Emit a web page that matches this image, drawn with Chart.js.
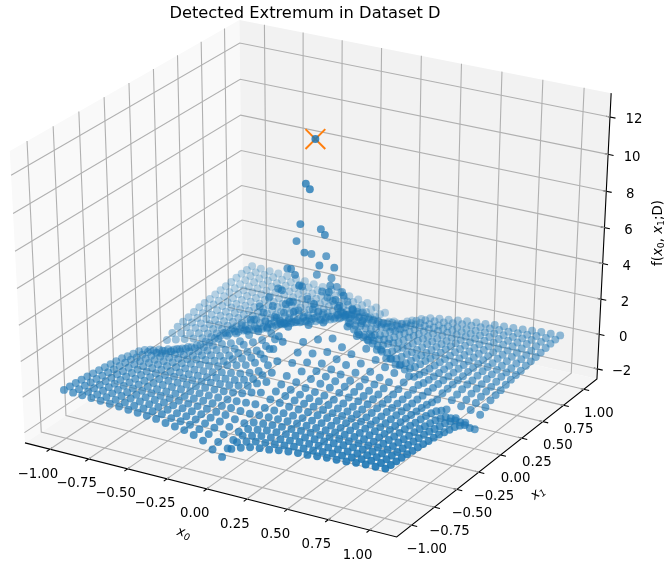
<!DOCTYPE html>
<html>
<head>
<meta charset="utf-8">
<title>Detected Extremum in Dataset D</title>
<script src="https://cdn.jsdelivr.net/npm/chart.js@4/dist/chart.umd.min.js"></script>
<style>
    html, body { margin: 0; padding: 0; background: #fff; }
    canvas { display: block; }
</style>
</head>
<body>
<canvas id="grafico" width="664" height="567"></canvas>
<script>
// Grid positions
const x0Values = [-1,-0.941,-0.882,-0.824,-0.765,-0.706,-0.647,-0.588,-0.529,-0.471,-0.412,-0.353,-0.294,-0.235,-0.176,-0.118,-0.059,0,0.059,0.118,0.176,0.235,0.294,0.353,0.412,0.471,0.529,0.588,0.647,0.706,0.765,0.824,0.882,0.941,1];
const x1Values = [-1,-0.941,-0.882,-0.824,-0.765,-0.706,-0.647,-0.588,-0.529,-0.471,-0.412,-0.353,-0.294,-0.235,-0.176,-0.118,-0.059,0,0.059,0.118,0.176,0.235,0.294,0.353,0.412,0.471,0.529,0.588,0.647,0.706,0.765,0.824,0.882,0.941,1];

// f(x0, x1; D), one row per x1 value
const fValues = [
[.16,.13,.11,.08,.05,.01,-.02,-.07,-.11,-.15,-.2,-.3,-.37,-.44,-.58,-.77,-1.14,-1.42,-.84,-.65,-.49,-.41,-.36,-.27,-.2,-.16,-.13,-.07,-.03,0,.04,.09,.13,.14,.17],
[.13,.11,.09,.06,.04,.01,-.02,-.06,-.09,-.12,-.16,-.25,-.3,-.36,-.48,-.63,-.94,-1.17,-.7,-.54,-.4,-.34,-.29,-.22,-.16,-.13,-.11,-.06,-.02,0,.03,.07,.11,.12,.14],
[.11,.09,.07,.05,.03,.01,-.01,-.05,-.07,-.1,-.13,-.2,-.24,-.29,-.38,-.5,-.74,-.93,-.55,-.43,-.32,-.27,-.23,-.18,-.13,-.1,-.08,-.05,-.02,0,.02,.06,.08,.09,.11],
[.08,.06,.05,.04,.02,.01,-.01,-.03,-.05,-.07,-.1,-.14,-.18,-.21,-.28,-.37,-.54,-.68,-.4,-.31,-.23,-.2,-.17,-.13,-.1,-.07,-.06,-.03,-.01,0,.02,.04,.06,.07,.08],
[.05,.04,.03,.02,.02,0,-.01,-.02,-.03,-.05,-.06,-.09,-.11,-.13,-.18,-.23,-.34,-.43,-.26,-.2,-.15,-.12,-.11,-.08,-.06,-.05,-.04,-.02,-.01,0,.01,.03,.04,.04,.05],
[.01,.01,.01,.01,0,0,0,-.01,-.01,-.01,-.02,-.03,-.03,-.04,-.05,-.06,-.1,-.12,-.07,-.06,-.04,-.03,-.03,-.02,-.02,-.01,-.01,-.01,0,0,0,.01,.01,.01,.01],
[-.02,-.02,-.01,-.01,-.01,0,0,.01,.02,.02,.03,.04,.05,.06,.08,.1,.15,.19,.11,.09,.07,.06,.05,.04,.03,.02,.02,.01,0,0,0,-.01,-.02,-.02,-.02],
[-.07,-.06,-.05,-.03,-.02,-.01,.01,.03,.05,.07,.09,.13,.16,.19,.25,.33,.5,.62,.37,.29,.21,.18,.16,.12,.09,.07,.06,.03,.01,0,-.02,-.04,-.06,-.06,-.07],
[-.11,-.09,-.07,-.05,-.03,-.01,.01,.05,.08,.1,.14,.21,.26,.31,.41,.53,.79,.99,.59,.46,.34,.29,.25,.19,.14,.11,.09,.05,.02,0,-.02,-.06,-.09,-.1,-.12],
[-.15,-.12,-.1,-.07,-.05,-.01,.02,.07,.1,.14,.18,.27,.34,.4,.53,.7,1.04,1.3,.77,.6,.45,.38,.33,.25,.18,.14,.12,.07,.03,0,-.03,-.08,-.12,-.13,-.16],
[-.2,-.16,-.13,-.1,-.06,-.02,.03,.09,.14,.18,.24,.36,.45,.54,.71,.93,1.38,1.73,1.03,.8,.6,.5,.43,.33,.24,.19,.16,.09,.03,0,-.04,-.1,-.16,-.17,-.21],
[-.3,-.25,-.19,-.14,-.09,-.03,.04,.13,.21,.27,.36,.54,.67,.8,1.06,1.4,2.07,2.59,1.54,1.19,.89,.75,.65,.49,.36,.28,.23,.13,.05,0,-.06,-.16,-.23,-.26,-.31],
[-.37,-.3,-.24,-.18,-.11,-.03,.05,.16,.26,.34,.45,.67,.83,1.0,1.32,1.73,2.57,3.21,1.91,1.48,1.11,.93,.8,.61,.45,.35,.29,.16,.06,0,-.08,-.19,-.29,-.32,-.39],
[-.44,-.36,-.29,-.21,-.13,-.04,.06,.19,.31,.4,.54,.8,1.0,1.19,1.57,2.07,3.06,3.83,2.28,1.76,1.32,1.11,.96,.73,.54,.42,.34,.19,.08,0,-.1,-.23,-.34,-.38,-.46],
[-.58,-.48,-.38,-.28,-.18,-.05,.08,.25,.4,.53,.71,1.06,1.32,1.57,2.07,2.73,4.05,5.06,3.01,2.33,1.75,1.47,1.27,.96,.71,.56,.46,.25,.1,0,-.13,-.3,-.46,-.51,-.61],
[-.77,-.63,-.5,-.37,-.23,-.07,.1,.33,.53,.7,.93,1.4,1.73,2.07,2.73,3.6,5.34,6.67,3.97,3.07,2.3,1.93,1.67,1.27,.93,.73,.6,.33,.13,0,-.17,-.4,-.6,-.67,-.8],
[-1.14,-.94,-.74,-.54,-.35,-.1,.15,.49,.79,1.04,1.38,2.07,2.57,3.06,4.05,5.34,7.9,9.88,5.88,4.54,3.41,2.87,2.47,1.88,1.38,1.09,.89,.49,.2,0,-.25,-.59,-.89,-.99,-1.19],
[-1.42,-1.17,-.93,-.68,-.43,-.12,.19,.62,.99,1.3,1.73,2.59,3.21,3.83,5.06,6.67,9.88,12.35,7.35,5.68,4.26,3.58,3.09,2.35,1.73,1.36,1.11,.62,.25,0,-.31,-.74,-1.11,-1.24,-1.48],
[-.85,-.7,-.55,-.4,-.26,-.07,.11,.37,.59,.77,1.03,1.54,1.91,2.28,3.01,3.97,5.88,7.35,4.37,3.38,2.54,2.13,1.84,1.4,1.03,.81,.66,.37,.15,0,-.18,-.44,-.66,-.74,-.88],
[-.65,-.54,-.43,-.31,-.2,-.06,.09,.28,.45,.6,.8,1.19,1.48,1.76,2.33,3.07,4.54,5.68,3.38,2.61,1.96,1.65,1.42,1.08,.8,.62,.51,.28,.11,0,-.14,-.34,-.51,-.57,-.68],
[-.49,-.4,-.32,-.23,-.15,-.04,.06,.21,.34,.45,.6,.89,1.11,1.32,1.75,2.3,3.41,4.26,2.53,1.96,1.47,1.24,1.07,.81,.6,.47,.38,.21,.09,0,-.11,-.26,-.38,-.43,-.51],
[-.41,-.34,-.27,-.2,-.13,-.04,.05,.18,.29,.38,.5,.75,.93,1.11,1.47,1.93,2.86,3.58,2.13,1.65,1.24,1.04,.9,.68,.5,.39,.32,.18,.07,0,-.09,-.21,-.32,-.36,-.43],
[-.36,-.29,-.23,-.17,-.11,-.03,.05,.15,.25,.32,.43,.65,.8,.96,1.27,1.67,2.47,3.09,1.84,1.42,1.07,.9,.77,.59,.43,.34,.28,.15,.06,0,-.08,-.19,-.28,-.31,-.37],
[-.27,-.22,-.18,-.13,-.08,-.02,.04,.12,.19,.25,.33,.49,.61,.73,.96,1.27,1.88,2.35,1.4,1.08,.81,.68,.59,.45,.33,.26,.21,.12,.05,0,-.06,-.14,-.21,-.24,-.28],
[-.2,-.16,-.13,-.1,-.06,-.02,.03,.09,.14,.18,.24,.36,.45,.54,.71,.93,1.38,1.73,1.03,.8,.6,.5,.43,.33,.24,.19,.16,.09,.03,0,-.04,-.1,-.16,-.17,-.21],
[-.16,-.13,-.1,-.07,-.05,-.01,.02,.07,.11,.14,.19,.29,.35,.42,.56,.73,1.09,1.36,.81,.63,.47,.39,.34,.26,.19,.15,.12,.07,.03,0,-.03,-.08,-.12,-.14,-.16],
[-.13,-.11,-.08,-.06,-.04,-.01,.02,.06,.09,.12,.16,.23,.29,.34,.46,.6,.89,1.11,.66,.51,.38,.32,.28,.21,.16,.12,.1,.06,.02,0,-.03,-.07,-.1,-.11,-.13],
[-.07,-.06,-.05,-.03,-.02,-.01,.01,.03,.05,.07,.09,.13,.16,.19,.25,.33,.5,.62,.37,.29,.21,.18,.16,.12,.09,.07,.06,.03,.01,0,-.02,-.04,-.06,-.06,-.07],
[-.03,-.02,-.02,-.01,-.01,0,0,.01,.02,.03,.04,.05,.07,.08,.1,.14,.2,.25,.15,.12,.09,.07,.06,.05,.04,.03,.02,.01,0,0,-.01,-.02,-.02,-.03,-.03],
[0,0,0,0,0,0,0,0,0,0,0,0,0,0,0,0,0,0,0,0,0,0,0,0,0,0,0,0,0,0,0,0,0,0,0],
[.04,.03,.02,.02,.01,0,0,-.02,-.02,-.03,-.04,-.07,-.08,-.1,-.13,-.17,-.25,-.31,-.18,-.14,-.11,-.09,-.08,-.06,-.04,-.03,-.03,-.02,-.01,0,.01,.02,.03,.03,.04],
[.09,.07,.06,.04,.03,.01,-.01,-.04,-.06,-.08,-.1,-.16,-.19,-.23,-.3,-.4,-.59,-.74,-.44,-.34,-.26,-.21,-.19,-.14,-.1,-.08,-.07,-.04,-.01,0,.02,.04,.07,.07,.09],
[.13,.11,.08,.06,.04,.01,-.02,-.06,-.09,-.12,-.16,-.23,-.29,-.34,-.46,-.6,-.89,-1.11,-.66,-.51,-.38,-.32,-.28,-.21,-.16,-.12,-.1,-.06,-.02,0,.03,.07,.1,.11,.13],
[.14,.12,.09,.07,.04,.01,-.02,-.06,-.1,-.13,-.17,-.26,-.32,-.38,-.51,-.67,-.99,-1.24,-.74,-.57,-.43,-.36,-.31,-.24,-.17,-.14,-.11,-.06,-.02,0,.03,.07,.11,.12,.15],
[.17,.14,.11,.08,.05,.01,-.02,-.07,-.12,-.16,-.21,-.31,-.38,-.46,-.61,-.8,-1.18,-1.48,-.88,-.68,-.51,-.43,-.37,-.28,-.21,-.16,-.13,-.07,-.03,0,.04,.09,.13,.15,.18]
];

// Detected extremum
const extremumX0 = [0];
const extremumX1 = [0];
const extremumF = [12.35];

// Ticks
const x0Ticks = [-1, -0.75, -0.5, -0.25, 0, 0.25, 0.5, 0.75, 1];
const x1Ticks = [-1, -0.75, -0.5, -0.25, 0, 0.25, 0.5, 0.75, 1];
const fTicks = [-2, 0, 2, 4, 6, 8, 10, 12];

// Box limits of the 3D axes
const x0Lim = [-1.1625, 1.1625];
const x1Lim = [-1.1625, 1.1625];
const fLim = [-2.585, 13.265];

const FONTE = '"DejaVu Sans"';

// Camera of the plot: elevation 30, azimuth -60, distance 10
function projetar(x0, x1, f) {
    const qx = (x0 - x0Lim[0]) / (x0Lim[1] - x0Lim[0]) - 0.5;
    const qy = (x1 - x1Lim[0]) / (x1Lim[1] - x1Lim[0]) - 0.5;
    const qz = (f - fLim[0]) / (fLim[1] - fLim[0]) - 0.5;
    const depth = 0.433 * qx - 0.75 * qy + 0.5 * qz;
    const d = 10 - depth;
    return {
        x: (0.866 * qx + 0.5 * qy) / d,
        y: (-0.25 * qx + 0.433 * qy + 0.866 * qz) / d,
        depth: depth
    };
}

function linha(pontos, cor, largura) {
    return {
        data: pontos.map((p) => projetar(p[0], p[1], p[2])),
        showLine: true,
        pointRadius: 0,
        borderColor: cor,
        borderWidth: largura,
        fill: false,
        tension: 0,
        clip: false,
        order: 10
    };
}

const [xa, xb] = x0Lim;
const [ya, yb] = x1Lim;
const [za, zb] = fLim;
const datasets = [];

// Grid lines on the three panes
x0Ticks.forEach((t) => datasets.push(linha([[t, ya, za], [t, yb, za], [t, yb, zb]], '#b0b0b0', 1.1)));
x1Ticks.forEach((t) => datasets.push(linha([[xb, t, za], [xa, t, za], [xa, t, zb]], '#b0b0b0', 1.1)));
fTicks.forEach((t) => datasets.push(linha([[xa, ya, t], [xa, yb, t], [xb, yb, t]], '#b0b0b0', 1.1)));

// Axis lines and tick marks
datasets.push(linha([[xa, ya, za], [xb, ya, za], [xb, yb, za], [xb, yb, zb]], '#000', 1.1));
x0Ticks.forEach((t) => datasets.push(linha([[t, ya + 0.023, za], [t, ya - 0.033, za]], '#000', 1.1)));
x1Ticks.forEach((t) => datasets.push(linha([[xb - 0.023, t, za], [xb + 0.033, t, za]], '#000', 1.1)));
fTicks.forEach((t) => datasets.push(linha([[xb - 0.023, yb, t], [xb + 0.033, yb, t]], '#000', 1.1)));

// Surface points, back to front, paler with depth
const pontos = [];
fValues.forEach((linhaF, j) => {
    linhaF.forEach((f, i) => pontos.push(projetar(x0Values[i], x1Values[j], f)));
});
pontos.sort((a, b) => a.depth - b.depth);

datasets.push({
    label: 'f',
    data: pontos,
    pointRadius: 3.95,
    pointBorderWidth: 0,
    pointBackgroundColor: pontos.map((p) => {
        const alfa = Math.min(1, Math.max(0.3, 0.34 + 0.7 * (p.depth + 0.509) / 1.018));
        return `rgba(31, 119, 180, ${alfa.toFixed(3)})`;
    }),
    clip: false,
    order: 1
});

// Orange cross on the extremum
datasets.push({
    label: 'extremum',
    data: extremumF.map((f, i) => projetar(extremumX0[i], extremumX1[i], f)),
    pointStyle: 'crossRot',
    pointRadius: 14,
    pointBorderColor: '#ff7f0e',
    pointBorderWidth: 2,
    clip: false,
    order: 5
});

function texto(ctx, s, x, y, tamanho) {
    ctx.font = `${tamanho}px ${FONTE}`;
    ctx.textAlign = 'center';
    ctx.textBaseline = 'middle';
    ctx.fillStyle = '#000';
    ctx.fillText(s, x, y);
}

function rotulo(v, casas) {
    const s = Math.abs(v).toFixed(casas);
    return v < 0 ? '\u2212' + s : s;
}

// Label made of pieces: [text, italic, subscript]
function formula(ctx, pedacos, cx, cy, angulo, tamanho) {
    ctx.save();
    ctx.translate(cx, cy);
    ctx.rotate(angulo);
    ctx.textAlign = 'left';
    ctx.textBaseline = 'alphabetic';
    ctx.fillStyle = '#000';
    const fonte = (p) => `${p[1] ? 'italic ' : ''}${p[2] ? tamanho * 0.7 : tamanho}px ${FONTE}`;
    let total = 0;
    pedacos.forEach((p) => { ctx.font = fonte(p); total += ctx.measureText(p[0]).width; });
    let x = -total / 2;
    pedacos.forEach((p) => {
        ctx.font = fonte(p);
        ctx.fillText(p[0], x, tamanho * 0.35 + (p[2] ? tamanho * 0.2 : 0));
        x += ctx.measureText(p[0]).width;
    });
    ctx.restore();
}

// Panes behind the datasets, tick labels on top
const caixa3d = {
    id: 'caixa3d',
    beforeDatasetsDraw(chart) {
        const { ctx, scales } = chart;
        const pane = (cantos, cor) => {
            ctx.beginPath();
            cantos.forEach((c, i) => {
                const p = projetar(c[0], c[1], c[2]);
                const px = scales.x.getPixelForValue(p.x);
                const py = scales.y.getPixelForValue(p.y);
                if (i === 0) ctx.moveTo(px, py); else ctx.lineTo(px, py);
            });
            ctx.closePath();
            ctx.fillStyle = cor;
            ctx.fill();
        };
        pane([[xa, ya, za], [xa, yb, za], [xa, yb, zb], [xa, ya, zb]], '#f9f9f9');
        pane([[xa, yb, za], [xb, yb, za], [xb, yb, zb], [xa, yb, zb]], '#f2f2f2');
        pane([[xa, ya, za], [xb, ya, za], [xb, yb, za], [xa, yb, za]], '#f5f5f5');
    },
    afterDatasetsDraw(chart) {
        const { ctx, scales } = chart;
        const sx = (p) => scales.x.getPixelForValue(p.x);
        const sy = (p) => scales.y.getPixelForValue(p.y);
        x0Ticks.forEach((t) => {
            const p = projetar(t, ya, za);
            texto(ctx, rotulo(t, 2), sx(p) - 12, sy(p) + 25, 13.3);
        });
        x1Ticks.forEach((t) => {
            const p = projetar(xb, t, za);
            texto(ctx, rotulo(t, 2), sx(p) + 15, sy(p) + 24, 13.3);
        });
        fTicks.forEach((t) => {
            const p = projetar(xb, yb, t);
            texto(ctx, rotulo(t, 0), sx(p) + 24, sy(p) + 3, 13.3);
        });
        formula(ctx, [['x', true, false], ['0', true, true]], 184, 532, 0.25, 13.3);
        formula(ctx, [['x', true, false], ['1', true, true]], 537, 492, -0.67, 13.3);
        formula(ctx, [['f(', false, false], ['x', true, false], ['0', false, true], [', ', false, false], ['x', true, false], ['1', false, true], [';D)', false, false]], 657, 233, -Math.PI / 2, 13.3);
    }
};

const ctxGrafico = document.getElementById('grafico').getContext('2d');
const grafico = new Chart(ctxGrafico, {
    type: 'scatter',
    data: { datasets: datasets },
    options: {
        responsive: false,
        animation: false,
        events: [],
        layout: { autoPadding: false, padding: { right: 54 } },
        scales: {
            x: { type: 'linear', display: false, min: -0.0735, max: 0.06866 },
            y: { type: 'linear', display: false, min: -0.0892, max: 0.07277 }
        },
        plugins: {
            legend: { display: false },
            tooltip: { enabled: false },
            title: {
                display: true,
                text: 'Detected Extremum in Dataset D',
                fullSize: false,
                color: '#000',
                font: { family: FONTE, size: 16.3, weight: 'normal', lineHeight: 1.227 },
                padding: { top: 4, bottom: 3 }
            }
        }
    },
    plugins: [caixa3d]
});
</script>
</body>
</html>
